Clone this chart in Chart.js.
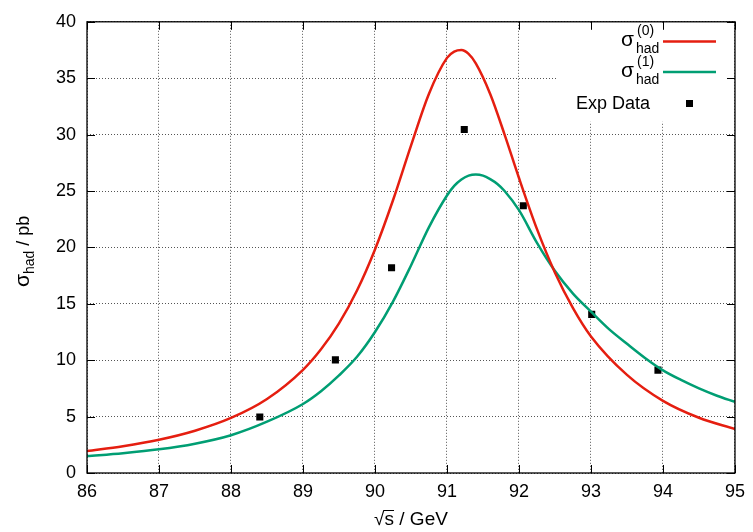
<!DOCTYPE html>
<html>
<head>
<meta charset="utf-8">
<script src="https://cdn.jsdelivr.net/npm/chart.js@4.4.0/dist/chart.umd.min.js"></script>
<style>
  html, body { margin: 0; padding: 0; background: #fff; }
</style>
</head>
<body>
<canvas id="xsec" width="753" height="532"></canvas>
<script>
// Cross section curves (sqrt(s) in GeV, sigma in pb)
const curveX0 = [86, 86.5, 87, 87.5, 88, 88.5, 89, 89.25, 89.5, 89.75, 90, 90.25, 90.5, 90.75,
                 91, 91.1, 91.2, 91.3, 91.4, 91.6, 91.8, 92, 92.25, 92.5, 92.75, 93, 93.5, 94, 94.5, 95];
const sigma0 = [1.95, 2.38, 2.95, 3.75, 4.88, 6.56, 9.15, 10.97, 13.27, 16.18, 19.82, 24.18, 29.03, 33.63,
                36.80, 37.35, 37.49, 37.15, 36.31, 33.60, 30.00, 26.15, 21.62, 17.76, 14.62, 12.11, 8.70, 6.40, 4.90, 3.90];

const curveX1 = [86, 86.5, 87, 87.5, 88, 88.5, 89, 89.25, 89.5, 89.75, 90, 90.25, 90.5, 90.75,
                 91, 91.1, 91.2, 91.3, 91.4, 91.5, 91.6, 91.7, 91.8, 92, 92.25, 92.5, 92.75, 93, 93.25,
                 93.5, 93.75, 94, 94.25, 94.5, 94.75, 95];
const sigma1 = [1.50, 1.76, 2.10, 2.60, 3.35, 4.55, 6.12, 7.25, 8.65, 10.30, 12.50, 15.20, 18.40, 21.80,
                24.60, 25.45, 26.02, 26.36, 26.46, 26.36, 26.05, 25.62, 25.00, 23.30, 20.40, 17.90, 15.90,
                14.30, 12.75, 11.45, 10.20, 9.10, 8.25, 7.50, 6.85, 6.30];

// Measured data
const expX = [88.40, 89.45, 90.23, 91.24, 92.06, 93.01, 93.93];
const expY = [4.97, 10.03, 18.20, 30.46, 23.70, 14.06, 9.12];

const xTicks = [86, 87, 88, 89, 90, 91, 92, 93, 94, 95];
const yTicks = [0, 5, 10, 15, 20, 25, 30, 35, 40];

const RED = '#e51e10';
const GREEN = '#009e73';
const FONT = 'Liberation Sans, Arial, Helvetica, sans-serif';

const pts = (xs, ys) => xs.map((x, i) => ({ x: x, y: ys[i] }));

// gnuplot style frame, inward ticks, key box, axis titles
const decor = {
    id: 'decor',
    beforeDatasetsDraw(chart) {
        const ctx = chart.ctx;
        const a = chart.chartArea;
        // opaque key background
        ctx.save();
        ctx.fillStyle = '#fff';
        ctx.fillRect(558, a.top + 1, 170, 99);
        ctx.restore();
    },
    afterDraw(chart) {
        const ctx = chart.ctx;
        const a = chart.chartArea;
        const xs = chart.scales.x, ys = chart.scales.y;
        ctx.save();
        ctx.strokeStyle = '#000';
        ctx.lineWidth = 1.3;
        ctx.strokeRect(a.left, a.top, a.right - a.left, a.bottom - a.top);
        ctx.beginPath();
        xTicks.forEach(v => {
            const px = Math.round(xs.getPixelForValue(v)) + 0.5;
            ctx.moveTo(px, a.bottom); ctx.lineTo(px, a.bottom - 8);
            ctx.moveTo(px, a.top); ctx.lineTo(px, a.top + 8);
        });
        yTicks.forEach(v => {
            const py = Math.round(ys.getPixelForValue(v)) + 0.5;
            ctx.moveTo(a.left, py); ctx.lineTo(a.left + 8, py);
            ctx.moveTo(a.right, py); ctx.lineTo(a.right - 8, py);
        });
        ctx.lineWidth = 1;
        ctx.stroke();

        // key
        ctx.fillStyle = '#000';
        ctx.textBaseline = 'alphabetic';
        [[RED, '(0)', 0], [GREEN, '(1)', 30.5]].forEach(([col, sup, dy]) => {
            ctx.font = '21px ' + FONT;
            ctx.textAlign = 'left';
            ctx.fillText('σ', 621, 46 + dy);
            ctx.font = '14px ' + FONT;
            ctx.fillText(sup, 637, 35 + dy);
            ctx.fillText('had', 636, 53 + dy);
            ctx.strokeStyle = col;
            ctx.lineWidth = 2.5;
            ctx.beginPath();
            ctx.moveTo(663, 41.5 + dy);
            ctx.lineTo(716, 41.5 + dy);
            ctx.stroke();
        });
        ctx.font = '18px ' + FONT;
        ctx.textAlign = 'right';
        ctx.fillText('Exp Data', 650, 109);
        ctx.fillRect(686, 100, 7, 7);

        // x title: sqrt(s) / GeV
        ctx.textAlign = 'left';
        ctx.font = '19px ' + FONT;
        const rootW = ctx.measureText('√').width;
        const sW = ctx.measureText('s').width;
        const restW = ctx.measureText(' / GeV').width;
        let x0 = (a.left + a.right) / 2 - (rootW + sW + restW) / 2;
        const base = 525;
        ctx.fillText('√', x0, base);
        ctx.fillText('s', x0 + rootW, base);
        ctx.fillText(' / GeV', x0 + rootW + sW, base);
        ctx.strokeStyle = '#000';
        ctx.lineWidth = 1;
        ctx.beginPath();
        ctx.moveTo(x0 + rootW - 1, base - 14.5);
        ctx.lineTo(x0 + rootW + sW, base - 14.5);
        ctx.stroke();

        // y title: sigma_had / pb
        ctx.translate(29, (a.top + a.bottom) / 2 + 4);
        ctx.rotate(-Math.PI / 2);
        ctx.font = '21px ' + FONT;
        const sigW = ctx.measureText('σ').width;
        ctx.font = '14px ' + FONT;
        const hadW = ctx.measureText('had').width;
        ctx.font = '18px ' + FONT;
        const pbW = ctx.measureText(' / pb').width;
        let t = -(sigW + hadW + pbW) / 2;
        ctx.font = '21px ' + FONT;
        ctx.fillText('σ', t, 0);
        ctx.font = '14px ' + FONT;
        ctx.fillText('had', t + sigW, 5);
        ctx.font = '18px ' + FONT;
        ctx.fillText(' / pb', t + sigW + hadW, 0);
        ctx.restore();
    }
};

new Chart(document.getElementById('xsec'), {
    type: 'line',
    data: {
        datasets: [{
            label: 'σ(0)had',
            data: pts(curveX0, sigma0),
            borderColor: RED,
            borderWidth: 2.5,
            pointRadius: 0,
            cubicInterpolationMode: 'monotone',
            fill: false
        }, {
            label: 'σ(1)had',
            data: pts(curveX1, sigma1),
            borderColor: GREEN,
            borderWidth: 2.5,
            pointRadius: 0,
            cubicInterpolationMode: 'monotone',
            fill: false
        }, {
            label: 'Exp Data',
            data: pts(expX, expY),
            showLine: false,
            pointStyle: 'rect',
            pointRadius: 5,
            pointBackgroundColor: '#000',
            pointBorderColor: '#000',
            pointBorderWidth: 0
        }]
    },
    options: {
        responsive: false,
        animation: false,
        events: [],
        layout: { padding: { top: 19, right: 15, left: 0, bottom: 0 } },
        plugins: {
            legend: { display: false },
            tooltip: { enabled: false },
            title: { display: false }
        },
        scales: {
            x: {
                type: 'linear',
                min: 86,
                max: 95,
                afterBuildTicks: s => { s.ticks = xTicks.map(v => ({ value: v })); },
                afterFit: s => { s.height = 59; },
                ticks: { color: '#000', font: { family: FONT, size: 18 }, padding: 8, maxRotation: 0 },
                grid: { color: '#555', lineWidth: 1, drawTicks: false },
                border: { display: false, dash: [1, 2] }
            },
            y: {
                min: 0,
                max: 40,
                afterBuildTicks: s => { s.ticks = yTicks.map(v => ({ value: v })); },
                afterFit: s => { s.width = 87; },
                ticks: { color: '#000', font: { family: FONT, size: 18 }, padding: 11 },
                grid: { color: '#555', lineWidth: 1, drawTicks: false },
                border: { display: false, dash: [1, 2] }
            }
        }
    },
    plugins: [decor]
});
</script>
</body>
</html>
